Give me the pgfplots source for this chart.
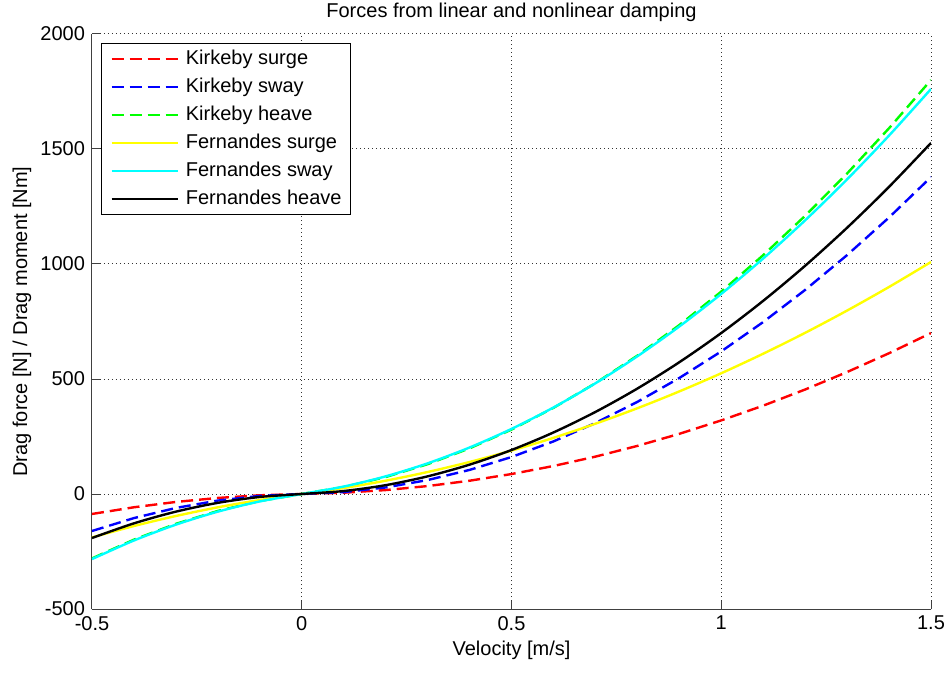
\documentclass[border=0pt]{standalone}
\usepackage{fontspec}
\setmainfont{Liberation Sans}
\usepackage{pgfplots}
\pgfplotsset{compat=1.18}

\definecolor{mred}{rgb}{1,0,0}
\definecolor{mblue}{rgb}{0,0,1}
\definecolor{mgreen}{rgb}{0,1,0}
\definecolor{myellow}{rgb}{1,1,0}
\definecolor{mcyan}{rgb}{0,1,1}
\definecolor{mblack}{rgb}{0,0,0}

% Damping force curves, sampled every 0.1 m/s
\pgfplotstableread{
v     ksurge ksway  kheave fsurge fsway  fheave
-0.5  -86.8  -160.8 -280.0 -188.8 -283.0 -191.3
-0.4  -57.7  -104.7 -198.4 -139.2 -202.1 -127.6
-0.3  -34.5  -60.6  -129.6 -95.6  -133.3 -76.7
-0.2  -17.1  -28.5  -73.6  -57.8  -76.7  -38.4
-0.1  -5.6   -8.3   -30.4  -26.0  -32.3  -12.9
0.0   0.0    0.0    0.0    0.0    0.0    0.0
0.1   5.6    8.3    30.4   26.0   32.3   12.9
0.2   17.1   28.5   73.6   57.8   76.7   38.4
0.3   34.5   60.6   129.6  95.6   133.3  76.7
0.4   57.7   104.7  198.4  139.2  202.1  127.6
0.5   86.8   160.8  280.0  188.8  283.0  191.3
0.6   121.7  228.7  374.4  244.2  376.1  267.6
0.7   162.5  308.6  481.6  305.6  481.3  356.7
0.8   209.1  400.5  601.6  372.8  598.7  458.4
0.9   261.6  504.3  734.4  446.0  728.3  572.9
1.0   320.0  620.0  880.0  525.0  870.0  700.0
1.1   384.2  747.7  1038.4 610.0  1023.9 839.9
1.2   454.3  887.3  1209.6 700.8  1189.9 992.4
1.3   530.3  1038.8 1393.6 797.6  1368.1 1157.7
1.4   612.1  1202.3 1590.4 900.2  1558.5 1335.6
1.5   699.8  1377.8 1800.0 1008.8 1761.0 1526.3
}\damping

\begin{document}
\begin{tikzpicture}
\begin{axis}[
  scale only axis,
  width=419.5pt, height=287.5pt,
  xmin=-0.5, xmax=1.5, ymin=-500, ymax=2000,
  xtick={-0.5,0,0.5,1,1.5},
  xticklabels={-0.5,0,0.5,1,1.5},
  ytick={-500,0,500,1000,1500,2000},
  yticklabels={-500,0,500,1000,1500,2000},
  axis x line*=bottom, axis y line*=left,
  axis line style={black!75, line width=0.5pt},
  tick align=inside, major tick length=4pt,
  tick style={black!75, line width=0.5pt},
  grid=major,
  grid style={black!80, line width=0.5pt, dash pattern=on 0.5pt off 1.5pt},
  tick label style={font=\fontsize{10}{12}\selectfont},
  xlabel={Velocity [m/s]},
  ylabel={Drag force [N] / Drag moment [Nm]},
  title={Forces from linear and nonlinear damping},
  label style={font=\fontsize{10}{12}\selectfont},
  xlabel style={at={(rel axis cs:0.5,0)}, anchor=center, yshift=-20.5pt},
  ylabel style={at={(rel axis cs:0,0.5)}, anchor=center, yshift=35pt},
  title style={at={(rel axis cs:0.5,1)}, anchor=center, yshift=5pt,
               font=\fontsize{10}{12}\selectfont},
  legend cell align=left,
  legend style={
    at={(rel axis cs:0,1)}, anchor=north west,
    xshift=4.5pt, yshift=-4.5pt,
    draw=black, line width=0.5pt, fill=white,
    font=\fontsize{10}{12}\selectfont,
    inner xsep=4.5pt, inner ysep=0.75pt,
    row sep=0pt, column sep=3.5pt,
    nodes={inner sep=0pt, minimum height=14pt},
  },
  legend image code/.code={\draw[#1] (0pt,0pt) -- (33pt,0pt);},
  every axis plot/.append style={line width=1.2pt},
]
\addplot[mred,   dash pattern=on 6pt off 3pt] table[x=v, y=ksurge] {\damping};
\addlegendentry{Kirkeby surge}
\addplot[mblue,  dash pattern=on 6pt off 3pt] table[x=v, y=ksway] {\damping};
\addlegendentry{Kirkeby sway}
\addplot[mgreen, dash pattern=on 6pt off 3pt] table[x=v, y=kheave] {\damping};
\addlegendentry{Kirkeby heave}
\addplot[myellow, smooth] table[x=v, y=fsurge] {\damping};
\addlegendentry{Fernandes surge}
\addplot[mcyan, smooth] table[x=v, y=fsway] {\damping};
\addlegendentry{Fernandes sway}
\addplot[mblack, smooth] table[x=v, y=fheave] {\damping};
\addlegendentry{Fernandes heave}
\end{axis}
\pgfresetboundingbox
\path[use as bounding box]
  ([xshift=-46pt, yshift=-32.5pt]current axis.south west)
  rectangle ([xshift=10.5pt, yshift=17pt]current axis.north east);
\end{tikzpicture}
\end{document}
